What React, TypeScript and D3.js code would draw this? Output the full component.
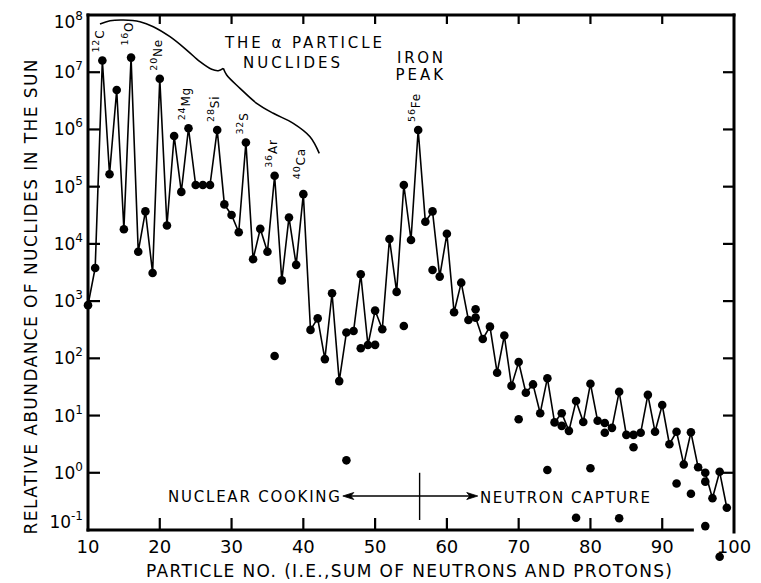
import React from "react";
import * as d3 from "d3";

const WIDTH = 761;
const HEIGHT = 583;
const FONT = "'DejaVu Sans', 'Liberation Sans', sans-serif";

// Mass numbers A along the connected curve and their solar abundances
const massNumbers = [
  10, 11, 12, 13, 14, 15, 16, 17, 18, 19, 20, 21, 22, 23, 24, 25, 26, 27, 28, 29,
  30, 31, 32, 33, 34, 35, 36, 37, 38, 39, 40, 41, 42, 43, 44, 45, 46, 47, 48, 49,
  50, 51, 52, 53, 54, 55, 56, 57, 58, 59, 60, 61, 62, 63, 64, 65, 66, 67, 68, 69,
  70, 71, 72, 73, 74, 75, 76, 77, 78, 79, 80, 81, 82, 83, 84, 85, 86, 87, 88, 89,
  90, 91, 92, 93, 94, 95, 96, 97, 98, 99,
];
const abundances = [
  850, 3.8e3, 1.6e7, 1.65e5, 4.9e6, 1.8e4, 1.8e7, 7.3e3, 3.7e4, 3.1e3,
  7.7e6, 2.1e4, 7.7e5, 8.1e4, 1.05e6, 1.07e5, 1.07e5, 1.07e5, 9.8e5, 4.9e4,
  3.2e4, 1.6e4, 5.9e5, 5.4e3, 1.83e4, 7.3e3, 1.55e5, 2.3e3, 2.9e4, 4.3e3,
  7.4e4, 314, 500, 97, 1370, 40, 282, 300, 2950, 171,
  683, 323, 1.22e4, 1450, 1.07e5, 1.17e4, 9.8e5, 2.43e4, 3.7e4, 2680,
  1.5e4, 640, 2100, 469, 515, 218, 358, 56, 250, 33,
  86, 25, 35, 11, 45, 7.6, 11, 5.4, 18, 7.7,
  36, 8.1, 7.4, 6.1, 26, 4.6, 4.6, 5, 23, 5.2,
  15.3, 3.15, 5.2, 1.4, 5.1, 1.25, 1.0, 0.36, 1.04, 0.245,
];

// Less abundant isobars, drawn as free dots
const isobarMass = [36, 46, 48, 50, 54, 58, 64, 70, 74, 76, 78, 80, 82, 84, 86, 92, 94, 96, 96, 98];
const isobarAbundance = [110, 1.65, 150, 172, 368, 3500, 720, 8.6, 1.12, 6.6, 0.164, 1.2, 5.0, 0.16, 2.8, 0.65, 0.43, 0.7, 0.117, 0.034];

// Named alpha-particle and iron-peak nuclides
const labelMass = [12, 16, 20, 24, 28, 32, 36, 40, 56];
const labelSymbol = ["C", "O", "Ne", "Mg", "Si", "S", "Ar", "Ca", "Fe"];

// Axis ticks
const xTickValues = [10, 20, 30, 40, 50, 60, 70, 80, 90, 100];
const xInnerTicks = [20, 30, 40, 50, 60, 70, 80, 90];
const yExponents = [-1, 0, 1, 2, 3, 4, 5, 6, 7, 8];
const yInnerExponents = [0, 1, 2, 3, 4, 5, 6, 7];

// Bracket over the alpha-particle nuclides, as [A, log10 abundance]
const braceUpper: [number, number][] = [
  [11.67, 7.843], [13.07, 7.9], [14.92, 7.913], [17.24, 7.883], [19.1, 7.796],
  [21.42, 7.621], [23.75, 7.388], [25.6, 7.184], [27.23, 7.051], [28.15, 7.027], [28.85, 7.068],
];
const braceLower: [number, number][] = [
  [28.85, 7.068], [29.32, 6.951], [31.18, 6.719], [33.5, 6.457], [35.82, 6.282],
  [38.6, 6.107], [40.93, 5.873], [42.22, 5.583],
];

export default function App() {
  const x = d3.scaleLinear().domain([10, 100]).range([88, 734]);
  const y = d3.scaleLog().domain([1e-1, 1e8]).range([530, 15]);
  const yl = (e: number) => y(Math.pow(10, e));

  const mainLine = d3
    .line<number>()
    .x((_, i) => x(massNumbers[i]))
    .y((v) => y(v))(abundances);

  const brace = d3
    .line<[number, number]>()
    .x((d) => x(d[0]))
    .y((d) => yl(d[1]))
    .curve(d3.curveCatmullRom);

  const bottomAxisEnd = 94.2;

  // annotation text spans in data units: [A start, A end, log baseline]
  const textBox = (a0: number, a1: number, e: number) => ({
    x: x(a0),
    y: yl(e),
    len: x(a1) - x(a0),
  });
  const alphaTitle1 = textBox(29.09, 50.96, 7.423);
  const alphaTitle2 = textBox(31.6, 45.1, 7.074);
  const iron1 = textBox(53.05, 59.46, 7.161);
  const iron2 = textBox(52.85, 59.46, 6.864);
  const cooking = textBox(21.15, 45.1, -0.511);
  const capture = textBox(64.6, 88.3, -0.528);

  const arrowY = yl(-0.406);
  const arrowL = x(45.5);
  const arrowR = x(64.3);
  const dividerX = x(56.2);

  return (
    <svg
      width={WIDTH}
      height={HEIGHT}
      style={{ position: "absolute", left: 0, top: 0, background: "#fff" }}
      fontFamily={FONT}
    >
      <rect x={0} y={0} width={WIDTH} height={HEIGHT} fill="#fff" />

      {/* frame */}
      <g stroke="#000" strokeWidth={3} fill="none" strokeLinecap="square">
        <line x1={x(10)} y1={y(1e8)} x2={x(100)} y2={y(1e8)} />
        <line x1={x(10)} y1={y(1e8)} x2={x(10)} y2={y(1e-1)} />
        <line x1={x(10)} y1={y(1e-1)} x2={x(bottomAxisEnd)} y2={y(1e-1)} />
        <line x1={x(100)} y1={y(1e8)} x2={x(100)} y2={y(1e-1) + 2} />
      </g>

      {/* inward ticks */}
      <g stroke="#000" strokeWidth={2.2}>
        {xInnerTicks.map((t) => (
          <line key={"b" + t} x1={x(t)} x2={x(t)} y1={y(1e-1)} y2={y(1e-1) - 12} />
        ))}
        {xInnerTicks.map((t) => (
          <line key={"t" + t} x1={x(t)} x2={x(t)} y1={y(1e8)} y2={y(1e8) + 9} />
        ))}
        {yInnerExponents.map((e) => (
          <line key={"l" + e} x1={x(10)} x2={x(10) + 12} y1={yl(e)} y2={yl(e)} />
        ))}
        {yInnerExponents.map((e) => (
          <line key={"r" + e} x1={x(100)} x2={x(100) - 11} y1={yl(e)} y2={yl(e)} />
        ))}
      </g>

      {/* tick labels */}
      <g fontSize={18} fill="#000" textAnchor="middle">
        {xTickValues.map((t) => (
          <text key={t} x={x(t)} y={553}>
            {t}
          </text>
        ))}
      </g>
      <g fill="#000" textAnchor="end">
        {yExponents.map((e) => {
          const shift = e === 8 ? 7 : e === -1 ? -8 : 0;
          return (
            <text key={e} x={83} y={yl(e) + 6 + shift} fontSize={17}>
              10
              <tspan fontSize={12} dy={-8}>
                {e}
              </tspan>
            </text>
          );
        })}
      </g>

      {/* axis titles */}
      <text
        x={146}
        y={577}
        fontSize={17}
        textLength={526}
        lengthAdjust="spacing"
        fill="#000"
      >
        PARTICLE NO. (I.E.,SUM OF NEUTRONS AND PROTONS)
      </text>
      <text
        transform={`translate(37, 297) rotate(-90)`}
        textAnchor="middle"
        fontSize={17}
        textLength={475}
        lengthAdjust="spacing"
        fill="#000"
      >
        RELATIVE ABUNDANCE OF NUCLIDES IN THE SUN
      </text>

      {/* alpha-particle bracket */}
      <g stroke="#000" strokeWidth={1.6} fill="none">
        <path d={brace(braceUpper) || ""} />
        <path d={brace(braceLower) || ""} />
      </g>

      {/* annotations */}
      <g fill="#000" fontSize={15}>
        <text x={alphaTitle1.x} y={alphaTitle1.y} textLength={alphaTitle1.len} lengthAdjust="spacing">
          THE α PARTICLE
        </text>
        <text x={alphaTitle2.x} y={alphaTitle2.y} textLength={alphaTitle2.len} lengthAdjust="spacing">
          NUCLIDES
        </text>
        <text x={iron1.x} y={iron1.y} textLength={iron1.len} lengthAdjust="spacing">
          IRON
        </text>
        <text x={iron2.x} y={iron2.y} textLength={iron2.len} lengthAdjust="spacing">
          PEAK
        </text>
        <text x={cooking.x} y={cooking.y} textLength={cooking.len} lengthAdjust="spacing">
          NUCLEAR COOKING
        </text>
        <text x={capture.x} y={capture.y} textLength={capture.len} lengthAdjust="spacing">
          NEUTRON CAPTURE
        </text>
      </g>

      {/* cooking / capture divider with arrows */}
      <g stroke="#000" strokeWidth={1.4} fill="#000">
        <line x1={arrowL + 4} x2={arrowR - 4} y1={arrowY} y2={arrowY} />
        <line x1={dividerX} x2={dividerX} y1={yl(0)} y2={yl(-0.825)} />
        <path
          d={`M${arrowL},${arrowY} L${arrowL + 11},${arrowY - 3.5} L${arrowL + 8},${arrowY} L${arrowL + 11},${arrowY + 3.5} Z`}
          strokeWidth={0.8}
        />
        <path
          d={`M${arrowR},${arrowY} L${arrowR - 11},${arrowY - 3.5} L${arrowR - 8},${arrowY} L${arrowR - 11},${arrowY + 3.5} Z`}
          strokeWidth={0.8}
        />
      </g>

      {/* abundance curve */}
      <path d={mainLine || ""} fill="none" stroke="#000" strokeWidth={1.6} strokeLinejoin="miter" />
      <g fill="#000">
        {massNumbers.map((m, i) => (
          <circle key={"m" + m} cx={x(m)} cy={y(abundances[i])} r={4.3} />
        ))}
        {isobarMass.map((m, i) => (
          <circle key={"i" + i} cx={x(m)} cy={y(isobarAbundance[i])} r={4.3} />
        ))}
      </g>

      {/* nuclide labels */}
      <g fill="#000">
        {labelMass.map((m, i) => {
          const v = abundances[massNumbers.indexOf(m)];
          const gap = m === 16 ? 12 : m === 40 ? 15 : 8;
          return (
            <text key={m} transform={`translate(${x(m) + 2}, ${y(v) - gap}) rotate(-90)`} fontSize={12} letterSpacing={0.8}>
              <tspan fontSize={9.5} dy={-5}>
                {m}
              </tspan>
              <tspan dy={5}>{labelSymbol[i]}</tspan>
            </text>
          );
        })}
      </g>
    </svg>
  );
}
